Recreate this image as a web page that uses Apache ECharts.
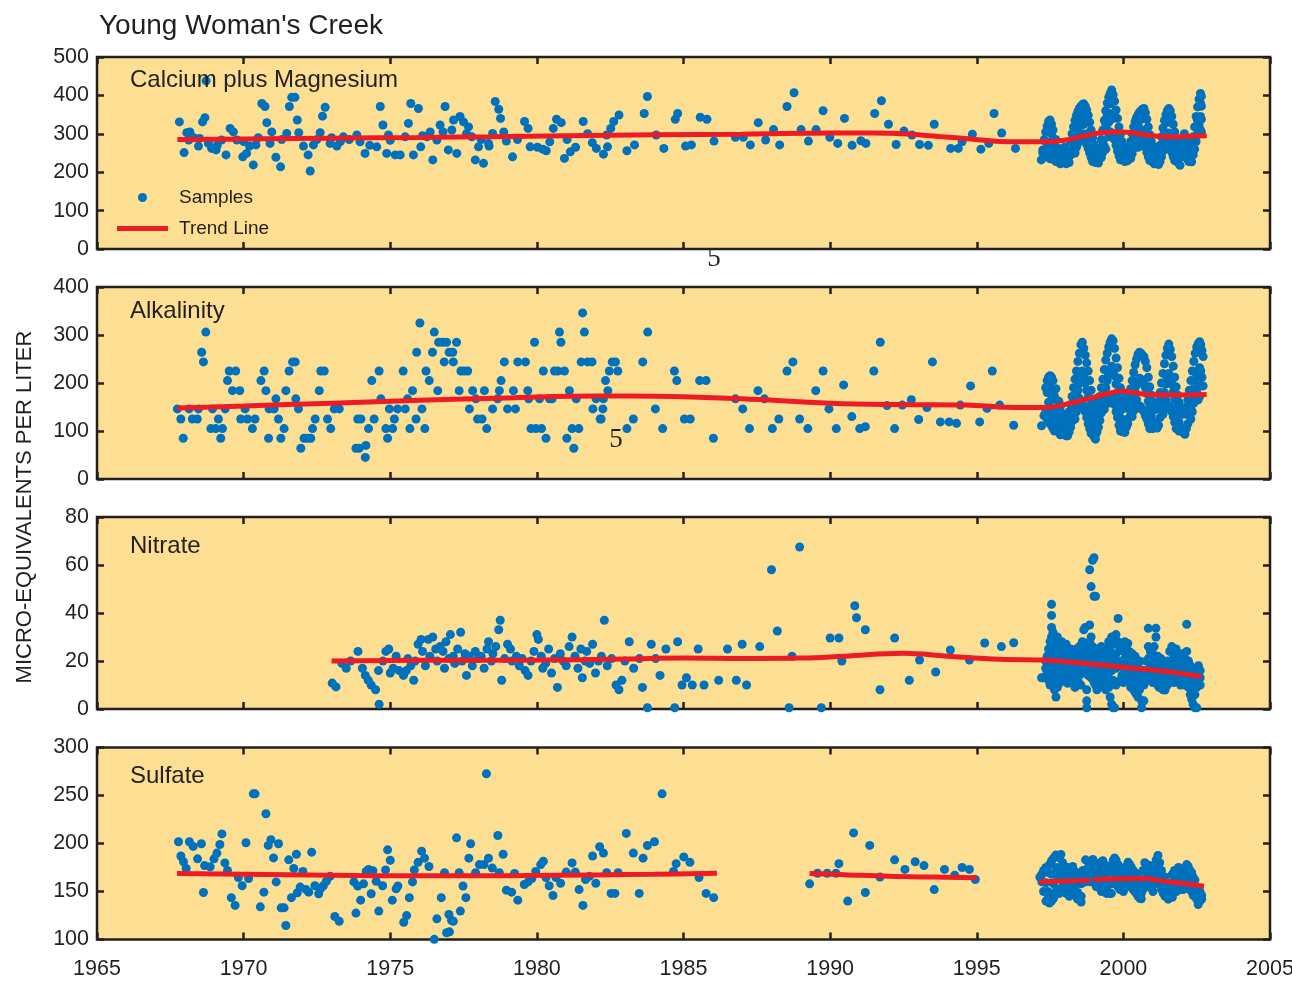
<!DOCTYPE html>
<html><head><meta charset="utf-8">
<script src="https://cdn.jsdelivr.net/npm/echarts@6/dist/echarts.min.js"></script>
<style>html,body{margin:0;padding:0;background:#fff}#chart{width:1292px;height:981px}</style>
</head><body><div id="chart"></div>
<script>
// ---------- text ----------
const chartTitle = "Young Woman's Creek";
const yAxisTitle = 'MICRO-EQUIVALENTS PER LITER';
const panelNames = ['Calcium plus Magnesium', 'Alkalinity', 'Nitrate', 'Sulfate'];
const xTickMin = 1965, xTickMax = 2005, xTickStep = 5;
const yTickMins = [0, 0, 0, 100];
const yTickMaxs = [500, 400, 80, 300];
const yTickSteps = [100, 100, 20, 50];

// ---------- data: rows are [year, value, value, ...] ----------
const calciumSamples = [
[1967.81,331],[1967.97,251],[1968.06,303],[1968.17,305],[1968.13,284],[1968.3,290],[1968.46,268],[1968.5,288],[1968.6,331],[1968.68,342],[1968.72,438],[1968.8,275],[1968.91,262],[1969.06,258],[1969.1,270],[1969.25,284],[1969.4,245],[1969.54,314],[1969.65,305],[1969.77,284],[1969.97,240],[1970.0,280],[1970.1,249],[1970.2,268],[1970.33,219],[1970.42,271],[1970.5,290],[1970.62,379],[1970.73,371],[1970.79,329],[1970.96,305],[1970.9,275],[1971.1,239],[1971.26,214],[1971.3,285],[1971.47,301],[1971.56,371],[1971.64,395],[1971.75,395],[1971.83,336],[1971.88,303],[1972.04,268],[1972.2,245],[1972.27,203],[1972.38,271],[1972.5,285],[1972.61,303],[1972.69,346],[1972.78,369],[1972.95,275],[1973.0,290],[1973.18,268],[1973.3,280],[1973.4,292],[1973.6,285],[1973.86,297],[1973.97,279],[1974.14,249],[1974.3,270],[1974.54,266],[1974.66,371],[1974.75,323],[1974.94,297],[1974.88,249],[1975.0,283],[1975.17,245],[1975.34,245],[1975.51,292],[1975.62,327],[1975.7,379],[1975.79,245],[1975.96,366],[1976.04,266],[1976.1,295],[1976.25,292],[1976.36,305],[1976.45,232],[1976.59,284],[1976.7,323],[1976.8,305],[1976.87,371],[1976.98,258],[1977.1,310],[1977.16,336],[1977.27,249],[1977.38,345],[1977.5,331],[1977.6,300],[1977.67,318],[1977.78,292],[1977.9,232],[1978.01,266],[1978.1,285],[1978.18,223],[1978.35,275],
[1978.58,384],[1978.7,364],[1978.76,340],[1978.49,301],[1978.37,268],[1978.87,305],[1978.96,281],[1979.17,240],[1979.34,285],[1979.58,332],[1979.7,314],[1979.77,266],[1980.02,265],[1980.2,260],[1980.32,256],[1980.44,279],[1980.56,314],[1980.67,338],[1980.83,329],[1981.03,285],[1980.94,236],[1981.14,253],[1981.32,265],[1981.58,332],[1981.73,300],[1981.89,277],[1982.03,262],[1982.27,247],[1982.41,266],[1982.38,297],[1982.52,314],[1982.62,332],[1982.8,349],[1983.07,256],[1983.33,271],[1983.66,353],[1983.77,397],[1984.07,297],[1984.33,262],[1984.72,338],[1984.8,353],[1985.07,268],[1985.27,271],[1985.57,343],[1985.8,338],[1986.04,281],[1986.77,291],[1987.04,291],[1987.28,271],[1987.55,329],[1987.8,284],[1988.07,311],[1988.28,271],[1988.53,371],[1988.77,407],[1989.01,311],[1989.26,281],[1989.52,311],[1989.76,360],[1989.99,291],[1990.26,275],[1990.49,340],[1990.75,270],[1991.05,282],[1991.22,275],[1991.52,353],[1991.75,386],[1991.99,325],[1992.25,272],[1992.52,307],[1992.79,297],[1993.05,272],[1993.35,270],[1993.55,325],[1994.11,262],[1994.37,262],[1994.5,279],[1994.85,299],[1995.14,260],[1995.41,275],[1995.59,353],[1995.85,302],[1996.32,262],
[1997.20,232],[1997.25,258,250],[1997.30,285,248],[1997.35,305,280,255],[1997.40,320,262,240],[1997.45,332,305,275],[1997.50,336,315,255,235],[1997.55,325,300,245],[1997.60,310,285,238],[1997.65,272,248,232],[1997.70,285,260,228],[1997.75,250,230],[1997.80,262,240,225],[1997.85,235,222],[1997.90,250,232],[1997.95,258],[1998.00,265,245,228],[1998.05,235,222],[1998.10,248,230],[1998.15,240,225],[1998.20,280,255],[1998.25,300,248],[1998.30,318,290,262],[1998.35,335,305,250],[1998.40,348,320,265],[1998.45,358,305,275],[1998.50,366,342,285],[1998.55,372,322,295],[1998.60,376,355,300],[1998.65,378,325,295],[1998.70,372,345,285],[1998.75,362,300,272],[1998.80,348,288,262],[1998.85,330,272,250],[1998.90,310,258,238],[1998.95,290,245,228],[1999.00,272,235],[1999.05,258,225],[1999.10,250,232],[1999.15,224],[1999.20,262,240],[1999.25,285,238],[1999.30,310,280,252],[1999.35,335,268],[1999.40,360,325,260],[1999.45,380,348,310],[1999.50,395,330,292],[1999.55,405,378,305],[1999.60,414,388,352],[1999.65,402,340,300],[1999.70,385,355,285],[1999.75,362,300,270],[1999.80,340,280,255],[1999.85,318,262,242],[1999.90,298,248,232],[1999.95,280,238],[2000.00,268,248],[2000.05,262,228],[2000.10,255,235],[2000.15,250,230],[2000.20,262,240],[2000.25,280,236],[2000.30,300,272,248],[2000.35,318,262],[2000.40,332,305,275],[2000.45,342,285],[2000.50,350,325,265],[2000.55,356,300,270],[2000.60,360,338,275],[2000.65,364,310,280],[2000.70,366,340,275],[2000.75,355,295,265],[2000.80,338,280,252],[2000.85,318,262,240],[2000.90,298,248,230],[2000.95,280,235],[2001.00,268,228],[2001.05,258,222],[2001.10,250,232],[2001.15,225],[2001.20,252,220],[2001.25,270,228],[2001.30,292,262,240],[2001.35,315,255],[2001.40,335,300,268],[2001.45,350,282],[2001.50,360,330,262],[2001.55,366,302,270],[2001.60,360,332,265],[2001.65,345,282,252],[2001.70,325,265,240],[2001.75,305,250,230],[2001.80,285,236],[2001.85,268,226],[2001.90,255],[2001.93,218],[2001.98,265,245],[2002.03,285,240],[2002.08,300,275,250],[2002.13,290,242],[2002.18,278,235],[2002.23,265,228],[2002.28,258,238],[2002.33,270,227],[2002.38,292,245],[2002.43,318,288,260],[2002.48,345,280],[2002.53,370,335,300],[2002.58,390,322],[2002.63,405,380,345,310],[2002.66,398,372,338,305]
];
const calciumTrend = [[1967.74,285],[1970,286.5],[1973,288.5],[1976,290.5],[1978.4,292.5],[1981,295],[1984,297.5],[1987,299],[1990.2,302],[1991.5,302],[1992.5,300],[1993.7,293],[1994.9,286],[1995.8,280],[1997.2,279],[1998.06,284],[1998.63,294],[1999.43,304],[2000.0,305],[2000.79,297],[2001.47,292],[2002.0,293],[2002.84,295]];

const alkalinitySamples = [
[1967.74,146],[1967.86,125],[1967.94,85],[1968.14,146],[1968.25,125],[1968.42,125],[1968.46,146],[1968.57,264],[1968.71,306],[1968.63,244],[1968.88,105],[1968.94,146],[1969.05,105],[1969.14,125],[1969.22,85],[1969.28,105],[1969.37,146],[1969.45,205],[1969.51,225],[1969.62,184],[1969.73,225],[1969.87,184],[1969.9,125],[1970.05,146],[1970.13,125],[1970.3,105],[1970.39,125],[1970.59,205],[1970.7,225],[1970.76,184],[1970.87,146],[1970.85,85],[1971.04,146],[1971.1,167],[1971.19,125],[1971.27,85],[1971.38,105],[1971.44,184],[1971.55,225],[1971.67,244],[1971.76,244],[1971.78,167],[1971.87,146],[1971.95,64],[1972.06,85],[1972.18,85],[1972.29,85],[1972.35,105],[1972.44,125],[1972.58,184],[1972.63,225],[1972.75,225],[1972.86,125],[1972.97,105],[1973.09,146],[1973.26,146],[1973.83,64],[1973.94,64],[1974.15,45],[1974.17,70],[1973.89,125],[1974.0,125],[1974.26,105],[1974.37,205],[1974.45,125],[1974.62,225],[1974.68,167],[1974.85,105],[1974.91,85],[1974.97,146],[1975.08,105],[1975.14,125],[1975.25,146],[1975.44,225],[1975.51,146],[1975.59,167],[1975.67,105],[1975.76,184],[1975.88,125],[1975.9,264],[1976.01,325],[1976.08,146],[1976.18,105],[1976.22,225],[1976.33,205],[1976.44,264],[1976.5,306],[1976.62,184],[1976.65,285],[1976.79,285],[1976.84,244],[1976.92,285],[1977.01,264],[1977.13,264],[1977.15,244],[1977.26,285],[1977.35,184],[1977.41,225],[1977.52,225],[1977.64,225],[1977.7,146],[1977.81,184],[1977.92,167],[1977.98,125],[1978.13,125],[1978.21,184],[1978.29,105],[1978.49,146],[1978.66,167],[1978.72,184],[1978.78,205],[1978.89,244],[1979.0,146],[1979.2,184],[1979.27,146],[1979.35,244],[1979.61,244],[1979.69,184],[1979.72,167],[1979.8,105],[1979.92,285],[1979.97,105],[1980.09,167],[1980.16,105],[1980.22,225],[1980.31,85],[1980.43,167],[1980.52,167],[1980.6,225],[1980.71,225],[1980.77,306],[1980.82,285],[1980.94,225],[1981.02,85],[1981.11,184],[1981.2,105],[1981.26,64],[1981.34,167],[1981.43,105],[1981.51,244],[1981.56,346],[1981.62,306],[1981.73,244],[1981.88,244],[1981.91,146],[1982.02,167],[1982.16,125],[1982.25,146],[1982.34,205],[1982.42,184],
[1982.19,125],[1982.27,167],[1982.47,225],[1982.57,244],[1982.68,244],[1982.76,225],[1983.07,105],[1983.29,125],[1983.61,244],[1983.78,306],[1984.04,146],[1984.29,105],[1984.69,225],[1984.77,205],[1985.03,125],[1985.23,125],[1985.55,205],[1985.77,205],[1986.02,85],[1986.77,167],[1987.02,146],[1987.25,105],[1987.54,184],[1987.76,167],[1988.03,105],[1988.25,125],[1988.53,225],[1988.73,244],[1988.96,125],[1989.24,105],[1989.51,184],[1989.76,225],[1989.96,146],[1990.21,105],[1990.46,196],[1990.74,130],[1991.01,105],[1991.2,109],[1991.49,225],[1991.71,285],[1991.94,153],[1992.2,105],[1992.46,154],[1992.77,165],[1993.02,124],[1993.3,149],[1993.49,244],[1993.76,119],[1994.06,119],[1994.31,116],[1994.44,154],[1994.79,194],[1995.1,119],[1995.35,147],[1995.53,225],[1995.78,154],[1996.26,112],
[1997.21,111],[1997.29,132],[1997.35,190,140],[1997.40,205,180,125],[1997.45,212,160,132],[1997.50,215,195,140,115],[1997.55,212,165,112],[1997.60,205,182,128,105],[1997.65,172,145,100],[1997.70,188,138,112],[1997.75,150,128,105],[1997.80,162,118,98],[1997.85,150,110,92],[1997.90,122,102],[1997.95,135,96],[1998.00,110,92],[1998.05,125,90],[1998.10,108,90],[1998.15,140,98],[1998.20,155,108],[1998.25,172,120],[1998.30,190,135],[1998.35,208,150,125],[1998.40,225,168,140],[1998.45,245,185,155],[1998.50,262,200,168],[1998.55,280,218,150],[1998.60,285,225,158],[1998.65,272,215,150],[1998.70,258,200,140],[1998.75,242,185,128],[1998.80,225,170,115],[1998.85,205,152,105],[1998.90,185,135,95],[1998.95,165,120,100],[1999.00,148,105,88],[1999.05,135,92,83],[1999.10,140,98],[1999.15,155,108],[1999.20,172,122],[1999.25,190,138],[1999.30,208,155],[1999.35,228,172,145],[1999.40,248,190,160],[1999.45,262,205,175],[1999.50,275,218,158],[1999.55,285,228,165],[1999.60,292,235,172],[1999.65,288,230,168],[1999.70,272,215,155],[1999.75,252,198,140],[1999.80,232,180,128],[1999.85,210,160,112],[1999.90,190,142,100],[1999.95,172,125,105],[2000.00,158,112,98],[2000.05,148,105,97],[2000.10,150,108],[2000.15,160,115],[2000.20,172,128],[2000.25,188,140],[2000.30,205,155,130],[2000.35,222,168,142],[2000.40,238,182,155],[2000.45,250,195,165],[2000.50,260,205,148],[2000.55,264,210,152],[2000.60,262,208,150],[2000.65,258,202,145],[2000.70,255,198,140],[2000.75,245,190,132],[2000.80,232,178,125],[2000.85,212,162,115],[2000.90,192,148,105],[2000.95,175,132,112],[2001.00,160,120,105],[2001.05,150,112],[2001.10,145,108],[2001.15,150,106],[2001.20,162,112],[2001.25,180,128],[2001.30,200,145],[2001.35,220,162,135],[2001.40,240,180,150],[2001.45,258,198,165],[2001.50,272,212,148],[2001.55,281,220,152],[2001.60,270,210,148],[2001.65,255,198,140],[2001.70,235,182,130],[2001.75,212,165,118],[2001.80,192,148,105],[2001.85,175,130,110],[2001.90,160,118,100],[2001.95,148,108],[2002.00,140,100],[2002.05,135,96],[2002.10,140,93],[2002.15,150,105],[2002.20,165,115],[2002.25,185,132],[2002.30,205,150,125],[2002.35,225,168,140],[2002.40,245,188,158],[2002.45,262,205,172],[2002.50,275,218,185],[2002.55,282,225,165],[2002.60,286,232,172],[2002.64,280,225,195],[2002.68,268,212],[2002.72,255,194]
];
const alkalinityTrend = [[1967.74,148],[1970,152],[1973,158],[1976,164],[1979,169],[1982.1,173],[1984,172.5],[1985,171.5],[1987,167],[1990,158],[1992.4,155],[1994.6,154],[1996.35,149],[1997.26,149],[1998.06,156],[1998.97,170],[1999.99,183],[2000.68,177],[2001.47,175],[2002.84,176]];

const nitrateSamples = [
[1973.02,10.8],[1973.15,9.2],[1973.35,19],[1973.5,17],[1973.65,20],[1973.9,24],[1974.05,17],[1974.15,14],[1974.25,12],[1974.35,10],[1974.5,8],[1974.62,2],[1974.6,16],[1974.75,20],[1974.85,24],[1974.95,25],[1975.0,15],[1975.1,17],[1975.2,22],[1975.3,16],[1975.45,14],[1975.55,16],[1975.6,21],[1975.7,18],[1975.8,12],[1975.85,20],[1975.95,27],[1976.05,29],[1976.1,24],[1976.2,18],[1976.3,29],[1976.35,22],[1976.45,30],[1976.55,25],[1976.6,20],[1976.7,26],[1976.8,24],[1976.85,17],[1976.9,28],[1977.0,21],[1977.05,31],[1977.15,22],[1977.2,19],[1977.3,25],[1977.4,32],[1977.45,20],[1977.55,23],[1977.6,14],[1977.7,22],[1977.8,18],[1977.9,24],[1978.0,21],[1978.1,22],[1978.2,17],[1978.3,25],[1978.35,28],[1978.45,20],[1978.5,23],[1978.6,26],[1978.7,33],[1978.75,37],[1978.8,12],[1978.9,21],[1979.0,27],[1979.1,25],[1979.15,20],[1979.3,22],[1979.4,18],[1979.5,21],[1979.6,16],[1979.7,14],[1979.8,20],[1979.9,24],[1980.0,31],[1980.05,29],[1980.15,22],[1980.2,17],[1980.3,19],[1980.4,25],[1980.5,15],[1980.6,21],[1980.7,9],[1980.8,23],[1980.9,20],[1981.0,18],[1981.1,26],[1981.2,30],[1981.3,22],[1981.4,17],[1981.5,25],[1981.55,13],[1981.65,20],[1981.7,24],[1981.8,19],[1981.9,27],[1982.0,15],[1982.1,20],[1982.2,22],[1982.3,37],[1982.4,18],[1982.55,21],[1982.7,10],[1982.8,8],[1982.9,12],[1983.0,20],[1983.15,28],[1983.3,17],[1983.5,21],[1983.6,9],[1983.77,0.5],[1983.9,27],[1984.05,21],[1984.2,14],[1984.4,25],[1984.7,0.5],[1984.8,28],[1984.95,10],[1985.1,13],[1985.3,10],[1985.5,25],[1985.7,10],[1986.2,12],[1986.5,25],[1986.8,12],[1987.0,27],[1987.15,10],[1987.6,26],[1988.0,58],[1988.2,32.5],[1988.6,0.5],[1988.7,22],[1988.96,67.5],[1989.7,0.5],[1990.0,29.6],[1990.3,29.6],[1990.4,20],[1990.84,43],[1990.9,38],[1991.2,33],[1991.7,8],[1992.2,29.6],[1992.7,12],[1993.05,20.4],[1993.6,15.4],[1994.1,24.6],[1994.75,20.4],[1995.27,27.5],[1995.84,26],[1996.26,27.6],
[1997.21,13],[1997.26,13],[1997.35,20,17],[1997.40,22,15],[1997.45,25,19,12],[1997.50,28,21,16,10],[1997.55,43.6,39,34,30,26,22,18],[1997.60,32,24,19,14],[1997.65,28,20,15,8],[1997.70,25,18,12,5],[1997.75,30,22,16,9],[1997.80,26,19,13],[1997.85,24,17,11],[1997.90,28,21,15],[1997.95,23,18,12],[1998.00,25,20,14],[1998.05,27,19,13],[1998.10,22,16,10.7],[1998.15,20,14],[1998.20,25,18,12],[1998.25,22,16],[1998.30,24,18,14],[1998.35,21,15,9],[1998.40,25,19,13],[1998.45,22,17,12],[1998.50,26,20,14],[1998.55,24,18,10],[1998.60,28,21,15],[1998.65,33,25,19],[1998.70,34,27,22,16],[1998.75,24,18,8,3.4,0.5],[1998.80,26,20,14],[1998.85,58,35,28,22,17],[1998.90,51,30,24,19,13],[1998.95,62,26,20,14],[1999.00,63,47,24,18,11],[1999.05,47,22,16,10],[1999.10,25,19,13,8],[1999.15,21,15,9],[1999.20,23,17,11],[1999.25,26,19,13],[1999.30,22,16,10],[1999.35,24,18,12],[1999.40,20,14,8],[1999.45,25,18,11],[1999.50,28,21,15,9],[1999.55,24,17,5],[1999.60,30,22,16,2],[1999.65,29,20,12,0.5],[1999.70,27,19,0.5],[1999.75,31,23,17,10],[1999.82,37.7,28,20],[1999.90,25,18,12],[1999.95,26,20,14],[2000.00,24,17,11],[2000.05,28,21,15],[2000.10,25,19,13],[2000.15,27.3,22,16],[2000.20,24,18,12],[2000.25,21,15,9],[2000.30,23,16,10],[2000.35,20,14,8],[2000.40,22,15,7],[2000.45,19,13,6],[2000.50,18,11,5],[2000.55,20,14,8],[2000.62,12,3.4,0.5],[2000.70,16,10,3.4],[2000.78,20,14],[2000.85,33.6,26,21,15],[2000.92,24,18,12],[2001.00,23,17,11],[2001.05,26,19,13],[2001.11,30,33.6,21,15],[2001.17,22,16,10],[2001.22,19,13,9],[2001.28,21,15,10],[2001.35,18,12,8],[2001.42,17,11,7.9],[2001.50,20,14,10],[2001.58,24,18,12],[2001.65,26,20,14],[2001.72,22,16,11],[2001.80,25,18,13],[2001.88,22,16,12],[2001.95,20,15,10],[2002.02,23,17,12],[2002.10,21,15,10],[2002.16,35.3,24,18,12],[2002.22,20,14,9],[2002.28,18,12,6],[2002.33,16,10,4],[2002.38,14,8,2],[2002.44,12,6,0.5],[2002.50,15,9,0.5],[2002.56,18,12],[2002.62,16,13,10]
];
const nitrateTrend = [[1973.0,20],[1976,20.3],[1980,20.4],[1983,20.8],[1985,21.2],[1987,21],[1989,21.2],[1990.5,22],[1992.5,23.2],[1994,22],[1995.8,20.7],[1997.26,20.4],[1998.06,19.7],[1999.2,18.4],[2000.34,17],[2001.47,15.6],[2002.67,13.5]];

const sulfateSamples = [
[1967.78,201.8],[1967.86,187],[1967.95,181],[1968.04,174],[1968.15,201.8],[1968.28,197],[1968.43,184],[1968.56,199.7],[1968.63,149],[1968.67,177],[1968.86,175.7],[1968.99,184],[1969.09,190],[1969.19,199],[1969.26,210],[1969.36,179.8],[1969.45,172],[1969.58,143.6],[1969.71,135.5],[1969.82,164.5],[1969.95,156],[1970.08,200.8],[1970.17,163.5],[1970.33,251.7],[1970.39,251.7],[1970.57,134],[1970.69,149.3],[1970.76,231],[1970.84,198],[1970.93,204],[1971.02,185],[1971.11,160],[1971.19,199.7],[1971.28,133],[1971.38,133],[1971.44,114.6],[1971.54,183],[1971.63,143.6],[1971.71,174],[1971.8,188.8],[1971.83,148.7],[1971.93,154.6],[1972.02,170.9],[1972.13,152],[1972.22,149.3],[1972.32,191],[1972.43,156],[1972.56,147.6],[1972.62,152.8],[1972.72,156],[1972.82,160.6],[1972.95,165.8],[1973.11,124],[1973.26,119],[1973.76,160],[1973.83,127.5],[1973.89,155.7],[1973.99,141],[1974.09,158],[1974.18,170.8],[1974.26,173],[1974.35,147.6],[1974.41,171.7],[1974.52,160.6],[1974.61,129.6],[1974.74,156],[1974.84,172.5],[1974.91,193.4],[1975.0,182.6],[1975.07,141],[1975.2,152.8],[1975.26,155.7],[1975.46,118],[1975.56,124.9],[1975.65,143.6],[1975.76,160],[1975.82,172.5],[1975.95,180.4],[1976.07,192],[1976.17,184.7],[1976.32,176],[1976.5,100.2],[1976.59,121.5],[1976.74,143.6],[1976.85,169.5],[1977.0,126],[1977.09,120],[1977.02,108],[1976.92,107],[1977.15,119],[1977.39,129.6],[1977.48,155.7],[1977.58,143.6],[1977.26,205.9],[1977.35,169.5],[1977.68,184.7],[1977.74,199.7],[1977.91,169.5],[1978.04,178],[1978.2,178],[1978.28,272.6],[1978.35,184.7],[1978.48,174.4],[1978.67,208.3],[1978.72,169.5],[1978.85,188.8],[1978.96,151.4],[1979.14,149.3],[1979.24,168.8],[1979.35,141],[1979.57,157.3],[1979.7,160],[1979.83,163.5],[1979.96,170.9],[1980.13,178],[1980.22,181.5],[1980.31,164.5],[1980.42,156],[1980.55,145.8],[1980.65,164.5],[1980.81,158.6],[1981.0,170.2],[1981.2,179.8],[1981.31,170.2],[1981.44,152],[1981.57,135.5],[1981.66,162.5],[1981.79,165.8],[1981.9,187],[1982.01,158.6],[1982.14,196.6],[1982.27,190],[1982.38,169.5],[1982.53,148],[1982.66,148],[1982.77,169.5],[1983.05,210.5],[1983.29,190],[1983.49,148],[1983.62,184.7],[1983.77,197.9],[1984.01,201.8],[1984.27,251.7],[1984.66,170.9],[1984.75,179],[1985.01,186],[1985.22,180.4],[1985.53,164.5],[1985.77,148],[1986.03,143.6],
[1989.3,158],[1989.57,169],[1989.9,169],[1990.2,169],[1990.3,179],[1990.6,140],[1990.8,211],[1991.2,149],[1991.35,198],[1991.7,165],[1992.2,183],[1992.55,173],[1992.9,181],[1993.2,177],[1993.55,152],[1993.9,173],[1994.25,167],[1994.5,175],[1994.75,173],[1994.95,162.5],
[1997.15,165],[1997.22,168,160],[1997.28,172,150],[1997.36,175,159,140],[1997.42,170,150,142],[1997.48,178,145,138],[1997.55,182,168,140],[1997.62,185,158,143],[1997.70,188,175,150],[1997.76,187,165,152],[1997.82,185,172,148],[1997.87,188.5,163],[1997.93,180,168,155],[1998.00,176,152],[1998.05,171,160,148],[1998.10,175,150],[1998.16,166,155,145],[1998.22,172,150],[1998.27,176,162,152],[1998.33,168,155.5],[1998.38,170,158,146],[1998.44,162,149,142],[1998.50,165,144],[1998.56,158,145,139],[1998.62,172,160],[1998.71,183,170,160],[1998.80,175,165],[1998.88,178,160],[1998.96,183.4,172,162],[1999.02,169.5,160],[1999.08,178,165,155],[1999.13,172,155.5],[1999.20,180,168,158],[1999.25,175,150],[1999.30,182,169.5,158],[1999.36,178,165,152],[1999.42,172,148],[1999.47,176,159,150],[1999.53,170,158,148],[1999.59,175,148],[1999.65,182,170,158],[1999.70,185,175,162],[1999.75,183,180,158],[1999.82,178,166,155],[1999.88,175,152],[1999.93,172,166,158],[2000.00,168,158,150],[2000.04,165,155.5],[2000.10,176,165,155],[2000.16,180.5,170,160],[2000.22,178,158],[2000.27,175,165,155],[2000.33,172,162,152],[2000.39,170,150],[2000.45,168,158,148],[2000.50,165,153,145],[2000.56,162,143],[2000.61,160,148,142.5],[2000.67,172,162,152],[2000.73,180,160],[2000.80,178,168,158],[2000.88,177,166,155],[2000.95,175,155],[2001.01,169.5,160,150],[2001.07,178,168,158],[2001.12,183,162],[2001.18,187.6,175,165],[2001.24,180,168,158],[2001.30,172,152],[2001.36,163,155,148],[2001.42,165,155.5,145],[2001.47,160,145],[2001.53,158,148,142],[2001.60,155,146],[2001.67,168,155,144],[2001.74,172,162,152],[2001.81,166,150],[2001.88,175,165,155],[2001.95,172,162,152],[2002.04,171,152],[2002.10,174,165,155],[2002.16,178,168,158],[2002.21,176,156],[2002.27,172,162,152],[2002.33,169.5,160,150],[2002.38,165,146],[2002.44,162,155.5,145],[2002.50,152,142],[2002.55,148,136.5],[2002.61,150,140],[2002.67,146,142]
];
const sulfateTrend1 = [[1967.73,168.8],[1970,168],[1973,167],[1976,166.3],[1979,166.5],[1982,167.3],[1984,168],[1986.14,169]];
const sulfateTrend2 = [[1989.3,168.8],[1990.5,167.5],[1992,165.8],[1993.5,165],[1995.0,164.4]];
const sulfateTrend3 = [[1997.13,160.1],[1998.0,161],[1998.87,161.8]];
const sulfateTrend4 = [[1998.96,162.5],[1999.8,163.2],[2000.67,163.5],[2001.36,160.8],[2002.0,158.5],[2002.75,155.6]];

// ---------- build ----------
const expand = rows => rows.flatMap(r => r.slice(1).map(v => [r[0], v]));
const panelSamples = [calciumSamples, alkalinitySamples, nitrateSamples, sulfateSamples].map(expand);
const panelTrends = [[calciumTrend], [alkalinityTrend], [nitrateTrend], [sulfateTrend1, sulfateTrend2, sulfateTrend3, sulfateTrend4]];

const INK = '#231f20', BG = '#fcdf93', BLUE = '#0071bc', RED = '#ed1c24';
const FONT = '"Liberation Sans", Arial, Helvetica, sans-serif';
const gridTops = [57, 287, 517, 747.5];
const gridH = 192;

const grids = [], xAxes = [], yAxes = [], series = [];
gridTops.forEach((top, i) => {
  grids.push({left: 97, top: top, width: 1173, height: gridH, show: true, backgroundColor: BG, borderColor: INK, borderWidth: 2.5, z: 0,
    containLabel: false, outerBoundsMode: 'none'});
  const tick = () => ({show: true, inside: true, length: 7, lineStyle: {color: INK, width: 2.5}});
  ['bottom', 'top'].forEach(pos => xAxes.push({
    type: 'value', gridIndex: i, position: pos, min: xTickMin, max: xTickMax, interval: xTickStep,
    axisLine: {show: false, onZero: false}, axisTick: tick(), splitLine: {show: false},
    axisLabel: {show: pos === 'bottom' && i === 3, margin: 19, color: INK, fontFamily: FONT, fontSize: 21.5,
      showMinLabel: true, showMaxLabel: true, hideOverlap: false, formatter: v => String(v)}
  }));
  ['left', 'right'].forEach(pos => yAxes.push({
    type: 'value', gridIndex: i, position: pos, min: yTickMins[i], max: yTickMaxs[i], interval: yTickSteps[i],
    axisLine: {show: false, onZero: false}, axisTick: tick(), splitLine: {show: false},
    axisLabel: {show: pos === 'left', margin: 8, color: INK, fontFamily: FONT, fontSize: 21.5, formatter: v => String(v)}
  }));
  series.push({type: 'scatter', name: 'Samples', xAxisIndex: 2 * i, yAxisIndex: 2 * i, data: panelSamples[i],
    symbol: 'circle', symbolSize: 9, itemStyle: {color: BLUE, opacity: 1}, z: 2, silent: true, animation: false});
  panelTrends[i].forEach(tr => series.push({type: 'line', name: 'Trend Line', xAxisIndex: 2 * i, yAxisIndex: 2 * i, data: tr,
    smooth: 0.4, symbol: 'none', lineStyle: {color: RED, width: 5}, itemStyle: {color: RED}, z: 3, silent: true, animation: false}));
});

const labelCenters = [80, 311, 546, 776];
const graphic = [
  {type: 'text', x: 99, y: 26, style: {text: chartTitle, fontFamily: FONT, fontSize: 28, fill: INK, align: 'left', verticalAlign: 'middle'}},
  {type: 'text', x: 25, y: 507, rotation: Math.PI / 2, style: {text: yAxisTitle, fontFamily: FONT, fontSize: 22, fill: INK, align: 'center', verticalAlign: 'middle'}},
  {type: 'text', x: 714, y: 259, style: {text: '5', fontFamily: '"Liberation Serif", "DejaVu Serif", serif', fontSize: 27, fill: INK, align: 'center', verticalAlign: 'middle'}},
  {type: 'text', x: 616, y: 440, style: {text: '5', fontFamily: '"Liberation Serif", "DejaVu Serif", serif', fontSize: 27, fill: INK, align: 'center', verticalAlign: 'middle'}}
].concat(panelNames.map((n, i) => ({type: 'text', x: 130, y: labelCenters[i], z: 10,
  style: {text: n, fontFamily: FONT, fontSize: 24, fill: INK, align: 'left', verticalAlign: 'middle'}})));

const chart = echarts.init(document.getElementById('chart'), null, {renderer: 'canvas'});
chart.setOption({
  backgroundColor: '#ffffff',
  animation: false,
  grid: grids, xAxis: xAxes, yAxis: yAxes, series: series, graphic: graphic,
  legend: {
    data: [{name: 'Samples', icon: 'circle'}, {name: 'Trend Line', icon: 'path://M0,0H51V5H0Z'}],
    orient: 'vertical', left: 112, top: 183, itemWidth: 51, itemHeight: 9, itemGap: 12,
    selectedMode: false, symbolKeepAspect: true,
    textStyle: {fontFamily: FONT, fontSize: 19, color: INK, padding: [0, 0, 0, 6]}
  }
});
</script></body></html>
